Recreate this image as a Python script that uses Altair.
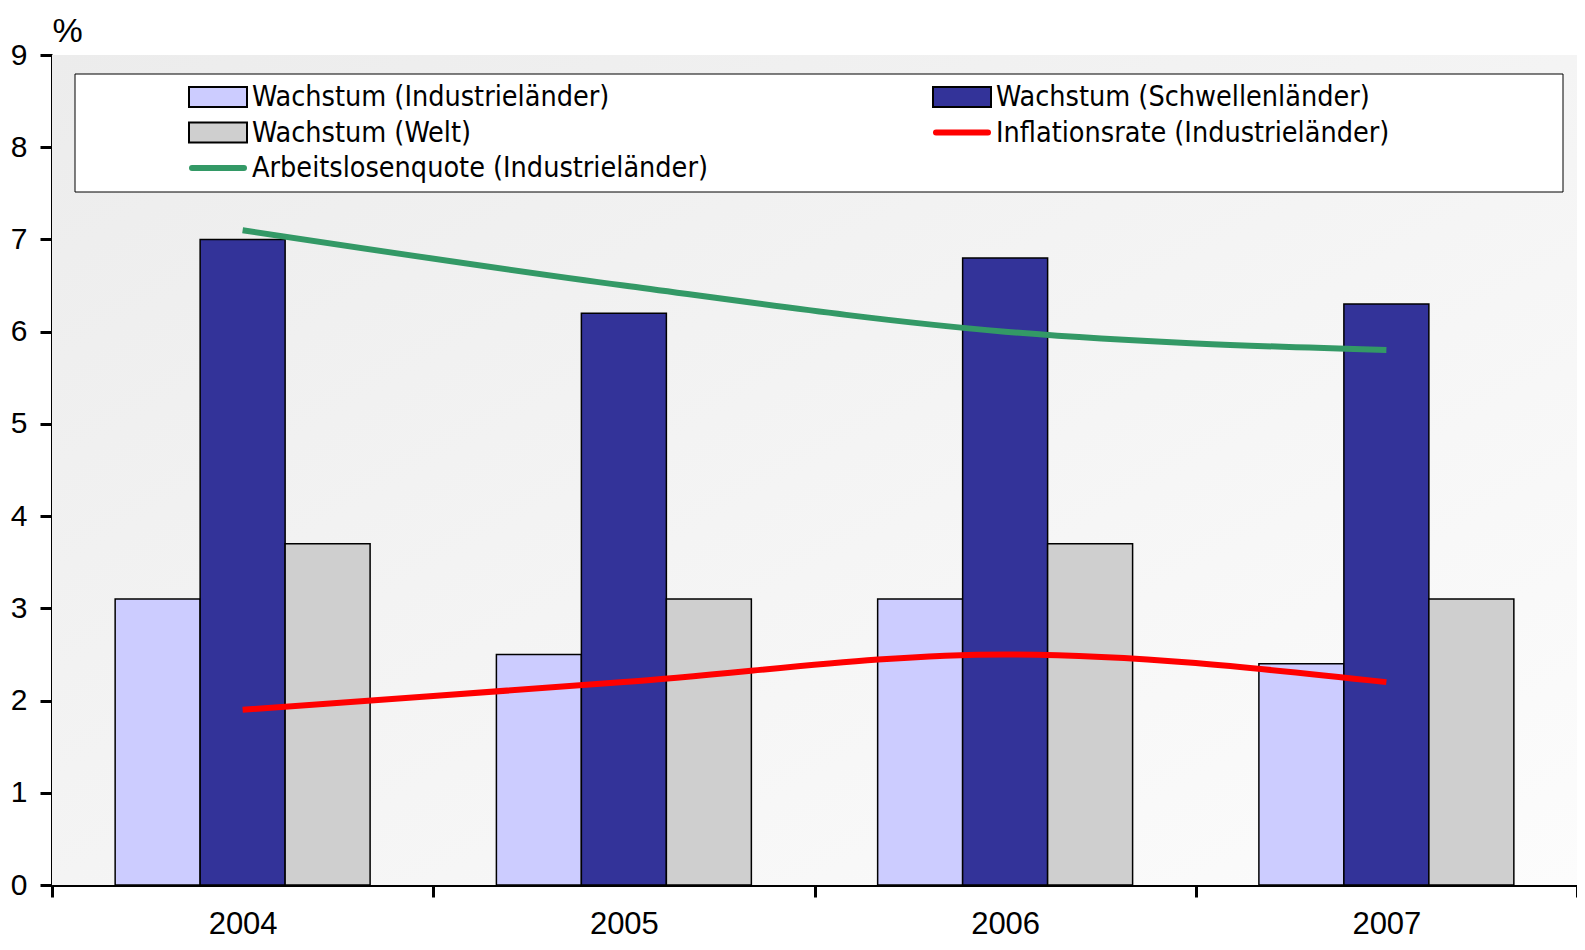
import altair as alt
import pandas as pd

years = ["2004", "2005", "2006", "2007"]
bar_series = ["Wachstum (Industrieländer)", "Wachstum (Schwellenländer)", "Wachstum (Welt)"]
line_series = ["Inflationsrate (Industrieländer)", "Arbeitslosenquote (Industrieländer)"]
legend_order = ["Wachstum (Industrieländer)", "Wachstum (Schwellenländer)",
                "Wachstum (Welt)", "Inflationsrate (Industrieländer)",
                "Arbeitslosenquote (Industrieländer)"]
legend_kind = ["bar", "bar", "bar", "line", "line"]
colors = ["#ccccff", "#333399", "#cfcfcf", "#ff0000", "#339966"]

wachstum_industrie = [3.1, 2.5, 3.1, 2.4]
wachstum_schwellen = [7.0, 6.2, 6.8, 6.3]
wachstum_welt = [3.7, 3.1, 3.7, 3.1]
inflation = [1.9, 2.2, 2.5, 2.2]
arbeitslosen = [7.1, 6.5, 6.0, 5.8]

bars = pd.DataFrame(
    [(y, s, v) for s, vals in zip(bar_series, [wachstum_industrie, wachstum_schwellen, wachstum_welt])
     for y, v in zip(years, vals)],
    columns=["year", "series", "value"])
lines = pd.DataFrame(
    [(y, s, v) for s, vals in zip(line_series, [inflation, arbeitslosen])
     for y, v in zip(years, vals)],
    columns=["year", "series", "value"])
legend_df = pd.DataFrame({"name": legend_order, "kind": legend_kind})

FONT = "DejaVu Sans Condensed, sans-serif"
AXFONT = "Liberation Sans"
W, H = 1525, 830

color_scale = alt.Scale(domain=legend_order, range=colors)
x_enc = alt.X("year:O", sort=years, scale=alt.Scale(paddingInner=0, paddingOuter=0),
              axis=alt.Axis(title=None, labelAngle=0, tickBand="extent", domainColor="black",
                            domainWidth=3, tickColor="black", tickWidth=3, tickSize=12,
                            labelFontSize=31, labelFont=AXFONT, labelColor="black",
                            labelPadding=12, grid=False))
y_enc = alt.Y("value:Q", scale=alt.Scale(domain=[0, 9], nice=False),
              axis=alt.Axis(title="%", titleAngle=0, titleAlign="left", titleBaseline="alphabetic",
                            titleX=0, titleY=-14, titleFontSize=34, titleFont=AXFONT,
                            titleFontWeight="normal", titleColor="black",
                            values=list(range(10)), domainColor="black", domainWidth=3,
                            tickColor="black", tickWidth=3, tickSize=12, labelFontSize=30,
                            labelFont=AXFONT, labelColor="black", labelPadding=13,
                            grid=False))

one = pd.DataFrame({"a": [0]})
bg = alt.Chart(one).mark_rect(
    fill=alt.Gradient(gradient="linear", x1=0, y1=0, x2=1, y2=1,
                      stops=[alt.GradientStop(color="#ececec", offset=0),
                             alt.GradientStop(color="#fcfcfc", offset=1)])
).encode(x=alt.value(0), x2=alt.value(W), y=alt.value(0), y2=alt.value(H))

legend_box = alt.Chart(one).mark_rect(
    fill="white", stroke="black", strokeWidth=1
).encode(x=alt.value(23), x2=alt.value(W - 14), y=alt.value(19), y2=alt.value(137))

bar_layer = alt.Chart(bars).mark_bar(stroke="black", strokeWidth=1.5, opacity=1).encode(
    x=x_enc, y=y_enc,
    xOffset=alt.XOffset("series:N", sort=bar_series,
                        scale=alt.Scale(paddingInner=0, paddingOuter=0.743)),
    color=alt.Color("series:N", scale=color_scale, legend=None),
)

line_layer = alt.Chart(lines).mark_line(strokeWidth=6, interpolate="monotone").encode(
    x=x_enc, y=y_enc,
    color=alt.Color("series:N", scale=color_scale, legend=None),
    detail="series:N",
)

data_layer = alt.layer(bar_layer, line_layer)

# manual legend: grid of 2 columns, filled row by row
leg_base = alt.Chart(legend_df).transform_window(
    idx="row_number()"
).transform_calculate(
    col="(datum.idx - 1) % 2", row="floor((datum.idx - 1) / 2)"
)
lx = alt.X("col:Q", scale=alt.Scale(domain=[0, 1], range=[137, 881]), axis=None)
lx2 = alt.X2("col:Q")
ly = alt.Y("row:Q", scale=alt.Scale(domain=[0, 2], range=[42, 113]), axis=None)
ly2 = alt.Y2("row:Q")
lcolor = alt.Color("name:N", scale=color_scale, legend=None)

leg_rect = leg_base.transform_filter("datum.kind == 'bar'").mark_rect(
    stroke="black", strokeWidth=2, x2Offset=58, yOffset=-10, y2Offset=10, opacity=1
).encode(x=lx, x2=lx2, y=ly, y2=ly2, fill=lcolor)

leg_line = leg_base.transform_filter("datum.kind == 'line'").mark_rule(
    strokeWidth=6, strokeCap="round", xOffset=3, x2Offset=55
).encode(x=lx, x2=lx2, y=ly, color=lcolor)

leg_text = leg_base.mark_text(
    align="left", baseline="middle", dx=63, font=FONT, fontSize=28.5, color="black"
).encode(x=lx, y=ly, text="name:N")

legend_layer = alt.layer(leg_rect, leg_line, leg_text)

chart = alt.layer(bg, legend_box, data_layer, legend_layer).resolve_scale(
    x="independent", y="independent"
).properties(
    width=W, height=H,
    autosize=alt.AutoSizeParams(type="none"),
    padding={"left": 44, "top": 47, "right": 0, "bottom": 57},
).configure_view(stroke="#888888", strokeWidth=2).configure(background="white")

chart.save("out.html", embed_options={"renderer": "svg", "actions": False})
